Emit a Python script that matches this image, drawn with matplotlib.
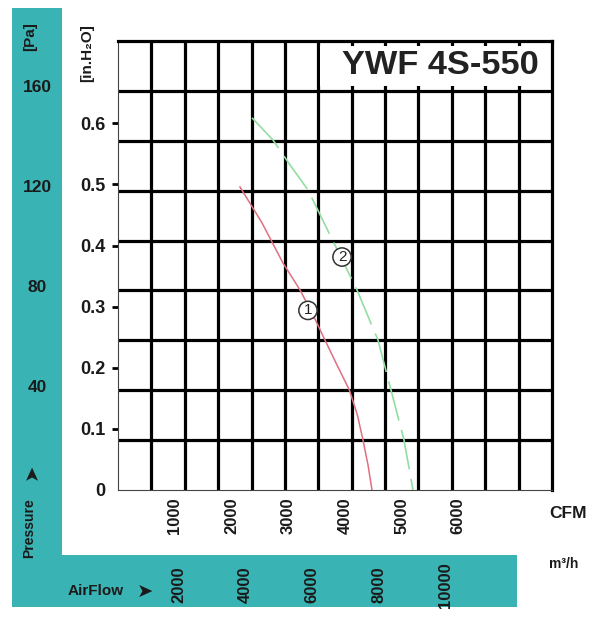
import matplotlib
matplotlib.use("Agg")
import matplotlib.pyplot as plt
import matplotlib.transforms as mtrans
from matplotlib.patches import Rectangle
import numpy as np

# ---------------- data ----------------
# airflow in m3/h, pressure in Pa
curve1_flow = [3654, 4313, 4942, 5452, 5841, 6200, 6560, 6930, 7170, 7339, 7489, 7608]
curve1_pa = [121.5, 107.1, 91.0, 80.2, 70.2, 60.1, 50.1, 40.1, 30.1, 20.0, 10.0, 0.0]
curve2_flow = [4014, 4643, 5152, 5691, 6410, 7159, 7788, 8177, 8567, 8836]
curve2_pa = [149.2, 140.3, 130.3, 120.3, 100.6, 80.2, 60.1, 40.1, 20.0, 0.0]
label1_pos = (5690, 72)
label2_pos = (6710, 93.4)

cfm_ticks = [1000, 2000, 3000, 4000, 5000, 6000]
m3h_ticks = [2000, 4000, 6000, 8000, 10000]
inh2o_ticks = [0, 0.1, 0.2, 0.3, 0.4, 0.5, 0.6]
inh2o_labels = ["0", "0.1", "0.2", "0.3", "0.4", "0.5", "0.6"]
pa_ticks = [40, 80, 120, 160]
CFM_TO_M3H = 1.699
INH2O_TO_PA = 245.0
title = "YWF 4S-550"

TEAL = "#3AB3B4"
INK = "#1a1a1a"
FONT = ["Liberation Sans Narrow", "DejaVu Sans Condensed", "Liberation Sans",
        "DejaVu Sans"]
plt.rcParams["font.family"] = FONT
plt.rcParams["lines.scale_dashes"] = False

W, H = 598, 619
fig = plt.figure(figsize=(W / 100, H / 100), dpi=100)
fig.patch.set_facecolor("white")

# teal L-shaped band
fig.add_artist(Rectangle((12 / W, 1 - 607 / H), 50 / W, 599 / H,
                         transform=fig.transFigure, fc=TEAL, ec="none", zorder=0))
fig.add_artist(Rectangle((12 / W, 1 - 607 / H), 505 / W, 52 / H,
                         transform=fig.transFigure, fc=TEAL, ec="none", zorder=0))

ax = fig.add_axes([118 / W, 1 - 490 / H, 434 / W, 449 / H])
ax.set_xlim(0, 13000)
ax.set_ylim(0, 180)
ax.set_facecolor("white")
ax.set_axisbelow(True)

# grid
ax.set_xticks(np.arange(1000, 13000, 1000), minor=True)
ax.set_yticks(np.arange(20, 180, 20), minor=True)
ax.grid(which="minor", color="black", lw=2.3)
ax.tick_params(which="minor", length=0)

for s in ["top", "right"]:
    ax.spines[s].set_linewidth(2.3)
    ax.spines[s].set_color("black")
for s in ["left", "bottom"]:
    ax.spines[s].set_linewidth(0.8)
    ax.spines[s].set_color("#444444")

# CFM ticks on bottom
ax.set_xticks([c * CFM_TO_M3H for c in cfm_ticks])
ax.set_xticklabels([str(c) for c in cfm_ticks], rotation=90,
                   fontsize=12, fontweight="bold", color=INK)
ax.tick_params(axis="x", which="major", length=0, pad=5)

# in.H2O ticks on left
ax.set_yticks([v * INH2O_TO_PA for v in inh2o_ticks])
ax.set_yticklabels(inh2o_labels, fontsize=13, fontweight="bold", color=INK)
ax.tick_params(axis="y", which="major", length=4, width=2, pad=5)
ax.yaxis.get_major_ticks()[0].tick1line.set_visible(False)

# title box
ax.add_patch(Rectangle((6050, 162.0), 6900, 16.0, fc="white", ec="none", zorder=1))
ttl = ax.text(9650, 170.3, title, ha="center", va="center", fontsize=25,
              fontweight="bold", color="#222222", zorder=2)
fig.canvas.draw()
wpx = ttl.get_window_extent().width
ttl.set_fontsize(25 * 197.0 / wpx)

# curves
ax.plot(curve1_flow, curve1_pa, color="#E0707F", lw=1.1, zorder=2)
ax.plot(curve2_flow, curve2_pa, color="#92DEA2", lw=1.2, zorder=2,
        dashes=(29, 7))
for (x, y), t in [(label1_pos, "1"), (label2_pos, "2")]:
    ax.text(x, y, t, ha="center", va="center", fontsize=11, color="#222222",
            zorder=4, bbox=dict(boxstyle="circle,pad=0.14", fc="white",
                                ec="#333333", lw=1.1))

# Pa labels in the teal band
tr_pa = mtrans.offset_copy(
    mtrans.blended_transform_factory(fig.transFigure, ax.transData),
    fig=fig, x=0, y=3, units="dots")
for p in pa_ticks:
    fig.text(37 / W, p, str(p), transform=tr_pa, ha="center", va="center",
             fontsize=12.5, fontweight="bold", color=INK)

# m3/h labels in bottom band
tr_m = mtrans.offset_copy(
    mtrans.blended_transform_factory(ax.transData, fig.transFigure),
    fig=fig, x=-6, y=0, units="dots")
for m in m3h_ticks:
    fig.text(m, 1 - 585 / H, str(m), transform=tr_m, rotation=90,
             ha="center", va="center", fontsize=12, fontweight="bold",
             color=INK)

# axis titles
fig.text(30 / W, 1 - 37 / H, "[Pa]", rotation=90, ha="center", va="center",
         fontsize=11, fontweight="bold", color=INK)
fig.text(87 / W, 1 - 53 / H, "[in.H\u2082O]", rotation=90, ha="center",
         va="center", fontsize=11, fontweight="bold", color=INK)
fig.text(29 / W, 1 - 528 / H, "Pressure", rotation=90, ha="center",
         va="center", fontsize=10, fontweight="bold", color=INK)
fig.text(32 / W, 1 - 472 / H, "\u27a4", rotation=90, ha="center",
         va="center", fontsize=14, color=INK, family="DejaVu Sans")
fig.text(96 / W, 1 - 591 / H, "AirFlow", ha="center", va="center",
         fontsize=11, fontweight="bold", color=INK)
fig.text(145 / W, 1 - 592 / H, "\u27a4", ha="center", va="center",
         fontsize=14, color=INK, family="DejaVu Sans")
fig.text(568 / W, 1 - 514 / H, "CFM", ha="center", va="center",
         fontsize=12.5, fontweight="bold", color=INK)
fig.text(564 / W, 1 - 564 / H, "m\u00b3/h", ha="center", va="center",
         fontsize=10, fontweight="bold", color=INK)

fig.savefig("out.png", dpi=100, facecolor="white")
